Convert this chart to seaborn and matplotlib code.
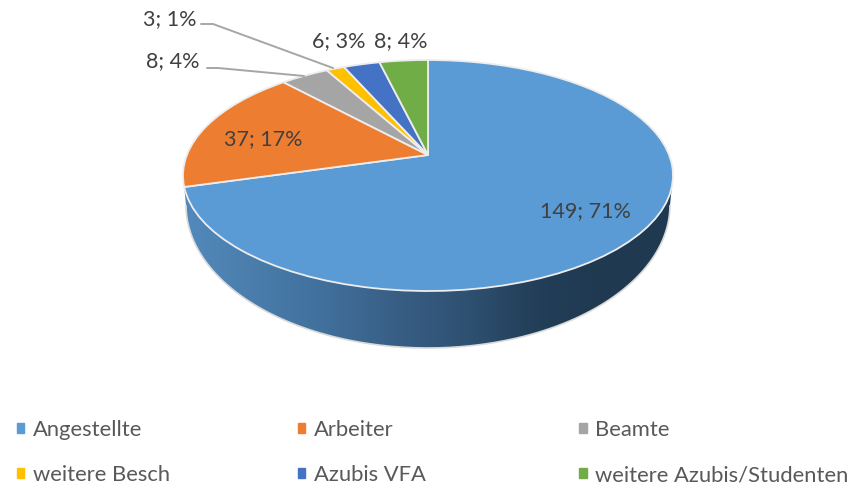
import numpy as np
import seaborn as sns
import matplotlib.pyplot as plt
from matplotlib.patches import Polygon
from matplotlib.transforms import Transform

# Werte aus dem Bild
kategorien = ['Angestellte', 'Arbeiter', 'Beamte', 'weitere Besch', 'Azubis VFA', 'weitere Azubis/Studenten']
anzahl = [149, 37, 8, 3, 6, 8]
prozent = [71, 17, 4, 1, 3, 4]
farben = ['#5B9BD5', '#ED7D31', '#A5A5A5', '#FFC000', '#4472C4', '#70AD47']
wand_farben = ['#5289BC', '#4A7DAB', '#41709C', '#395F86', '#2F5273', '#233F59', '#1F3950', '#203A52']

# Layout in Pixeln
W, H = 859, 486
CX, CY = 428, 155       # Spitze der Tortenstuecke
HINTEN, VORNE = 95, 136  # Abstand Spitze bis Rand oben / unten
BREITE = 245
TEXT = '#404040'

# Perspektive: der Kreis wird projektiv auf die Ellipse abgebildet
K = (VORNE - HINTEN) / (VORNE + HINTEN)
A = HINTEN * (1 + K)
B = BREITE * np.sqrt(1 - K ** 2)


class Perspektive(Transform):
    input_dims = output_dims = 2

    def transform_non_affine(self, values):
        v = np.asarray(values, dtype=float)
        w = 1 + K * v[:, 1]
        return np.column_stack([CX + B * v[:, 0] / w, CY - A * v[:, 1] / w])


sns.set_theme(style='white')
plt.rcParams['font.family'] = ['Lato', 'DejaVu Sans']

fig = plt.figure(figsize=(W / 100, H / 100), dpi=100)
ax = fig.add_axes([0, 0, 1, 1])

wedges, _ = ax.pie(anzahl, startangle=90, counterclock=False, radius=1,
                   colors=farben, wedgeprops=dict(edgecolor='#EDEDED', linewidth=1.3))
for w in wedges:
    w.set_transform(Perspektive() + ax.transData)
    w.set_zorder(2)

# Seitenwand: untere Kante der Oberseite + untere Kante des Bodens
t = np.linspace(np.pi, 2 * np.pi, 200)
oben = np.column_stack([CX + BREITE * np.cos(t), (CY + (VORNE - HINTEN) / 2) - (VORNE + HINTEN) / 2 * np.sin(t)])
unten = np.column_stack([CX + 242 * np.cos(t), 205 - 143 * np.sin(t)])
umriss = np.vstack([oben, unten[::-1]])

cmap = sns.blend_palette(wand_farben, as_cmap=True)
bild = ax.imshow(np.linspace(0, 1, 256)[None, :], cmap=cmap, aspect='auto', zorder=0.6,
                 extent=(CX - BREITE, CX + BREITE, 360, 100))
bild.set_clip_path(Polygon(umriss, closed=True, transform=ax.transData))
ax.add_patch(Polygon(unten, closed=False, fill=False, edgecolor='#D9D9D9', linewidth=1.2, zorder=0.7))

ax.set_aspect('auto')
ax.set_xlim(0, W)
ax.set_ylim(H, 0)
ax.axis('off')

# Datenbeschriftung
label_pos = [(585, 211), (263, 139), (173, 61), (170, 19), (339, 41), (401, 41)]
for n, p, pos in zip(anzahl, prozent, label_pos):
    ax.text(*pos, f'{n}; {p}%', ha='center', va='center', fontsize=15.5, color=TEXT, zorder=5)

# Fuehrungslinien
for linie in ([(207, 68), (218, 68), (304, 76)], [(201, 24), (213, 24), (333, 68)]):
    xs, ys = zip(*linie)
    ax.plot(xs, ys, color='#A6A6A6', linewidth=1.4, zorder=4)

# Legende, jeder Eintrag einzeln wegen der festen Spalten
spalten = [16.5, 297.5, 579]
zeilen = [430, 475]
for i, name in enumerate(kategorien):
    fig.legend([plt.Rectangle((0, 0), 1, 1, color=farben[i])], [name], loc='center left',
               bbox_to_anchor=(spalten[i % 3] / W, 1 - zeilen[i // 3] / H), frameon=False,
               handlelength=0.36, handleheight=0.36, handletextpad=0.38, borderpad=0,
               borderaxespad=0, fontsize=15.8, labelcolor='#595959')

fig.savefig('out.png', dpi=100)
